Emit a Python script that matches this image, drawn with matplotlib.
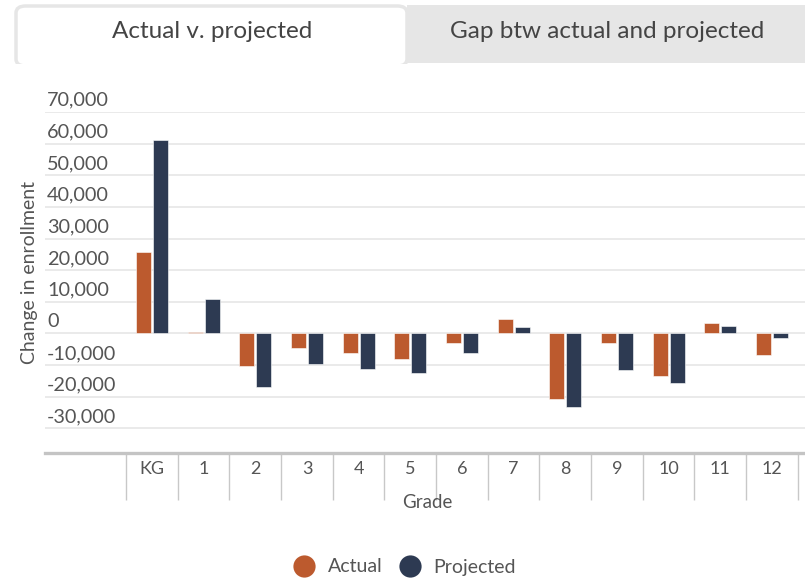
import numpy as np
import matplotlib
matplotlib.use('Agg')
import matplotlib.pyplot as plt
import matplotlib.transforms as mtransforms
from matplotlib.patches import FancyBboxPatch, Rectangle
from matplotlib.lines import Line2D

# --- DADOS ---
grades = ['KG', '1', '2', '3', '4', '5', '6', '7', '8', '9', '10', '11', '12']
actual = [25700, 600, -10200, -4700, -6100, -8200, -3000, 4600, -20800, -3000, -13500, 3300, -6800]
projected = [61000, 11000, -17000, -9700, -11200, -12600, -6300, 1900, -23300, -11700, -15700, 2500, -1500]
y_ticks = [70000, 60000, 50000, 40000, 30000, 20000, 10000, 0, -10000, -20000, -30000]

COR_ACTUAL = '#bc5a2e'
COR_PROJ = '#2d3a52'
COR_TEXTO = '#555555'
COR_GRADE = '#e8e8e8'

plt.rcParams['font.family'] = ['Lato', 'DejaVu Sans']

fig = plt.figure(figsize=(8.05, 5.79), dpi=100)
W, H = 805, 579

# abas no topo
fig.patches.append(Rectangle((407 / W, 1 - 63 / H), (W - 407) / W, 58 / H,
                             transform=fig.transFigure, facecolor='#e6e6e6',
                             edgecolor='none', zorder=0))
fig.patches.append(FancyBboxPatch((16 / W, 1 - 66 / H), (407 - 16) / W, 60 / H,
                                  boxstyle='round,pad=0,rounding_size=0.012',
                                  transform=fig.transFigure, facecolor='white',
                                  edgecolor='#e6e6e6', linewidth=2.5, zorder=1))
fig.patches.append(Rectangle((10 / W, 1 - 80 / H), 410 / W, 16 / H,
                             transform=fig.transFigure, facecolor='white',
                             edgecolor='none', zorder=2))
fig.text(212 / W, 1 - 32 / H, 'Actual v. projected', ha='center', va='center',
         fontsize=17.5, color='#444444')
fig.text(607 / W, 1 - 32 / H, 'Gap btw actual and projected', ha='center', va='center',
         fontsize=17.5, color='#444444')

# area do grafico
ax = fig.add_axes([45 / W, 1 - 453 / H, (W - 45) / W, (453 - 112) / H])
x = np.arange(len(grades))
largura = 0.29
ax.bar(x - largura / 2 - 0.02, actual, largura, color=COR_ACTUAL,
       edgecolor='white', linewidth=0.4, zorder=3)
ax.bar(x + largura / 2 + 0.02, projected, largura, color=COR_PROJ,
       edgecolor='white', linewidth=0.4, zorder=3)

ax.set_xlim(-2.07, 12.64)
ax.set_ylim(-37800, 70000)

for s in ['top', 'right', 'left']:
    ax.spines[s].set_visible(False)
ax.spines['bottom'].set_color('#c4c4c4')
ax.spines['bottom'].set_linewidth(2.4)
ax.spines['bottom'].set_zorder(4)

ax.set_yticks(y_ticks)
ax.set_yticklabels([])
ax.tick_params(axis='y', length=0)
ax.grid(axis='y', color=COR_GRADE, linewidth=1.3, zorder=0)

# rotulos do eixo y dentro da area, acima das linhas
trans = mtransforms.blended_transform_factory(ax.transAxes, ax.transData)
for v in y_ticks:
    ax.text(2 / (W - 45), v + 1000, f'{v:,}', transform=trans, ha='left',
            va='bottom', fontsize=14.3, color=COR_TEXTO)

# eixo x: divisores entre categorias
ax.set_xticks(x)
ax.set_xticklabels(grades, fontsize=13, color=COR_TEXTO)
ax.set_xticks(np.arange(-0.5, len(grades)), minor=True)
ax.tick_params(axis='x', which='major', length=0, pad=6)
ax.tick_params(axis='x', which='minor', length=34, width=1, color='#c8c8c8',
               direction='out')

fig.text(427 / W, 1 - 503 / H, 'Grade', ha='center', va='center',
         fontsize=13.5, color=COR_TEXTO)
fig.text(30 / W, 1 - 272 / H, 'Change in enrollment', ha='center', va='center',
         rotation=90, fontsize=14, color=COR_TEXTO)

# legenda
itens = [Line2D([], [], marker='o', linestyle='none', markersize=16,
                markerfacecolor=COR_ACTUAL, markeredgecolor='none'),
         Line2D([], [], marker='o', linestyle='none', markersize=16,
                markerfacecolor=COR_PROJ, markeredgecolor='none')]
leg = fig.legend(itens, ['Actual', 'Projected'], loc='center',
                 bbox_to_anchor=(0.502, 1 - 567 / H), ncol=2, frameon=False,
                 fontsize=14, handletextpad=0.6, columnspacing=0.8,
                 handlelength=1.2)
for t in leg.get_texts():
    t.set_color(COR_TEXTO)

plt.savefig('out.png', dpi=100, facecolor='white')
